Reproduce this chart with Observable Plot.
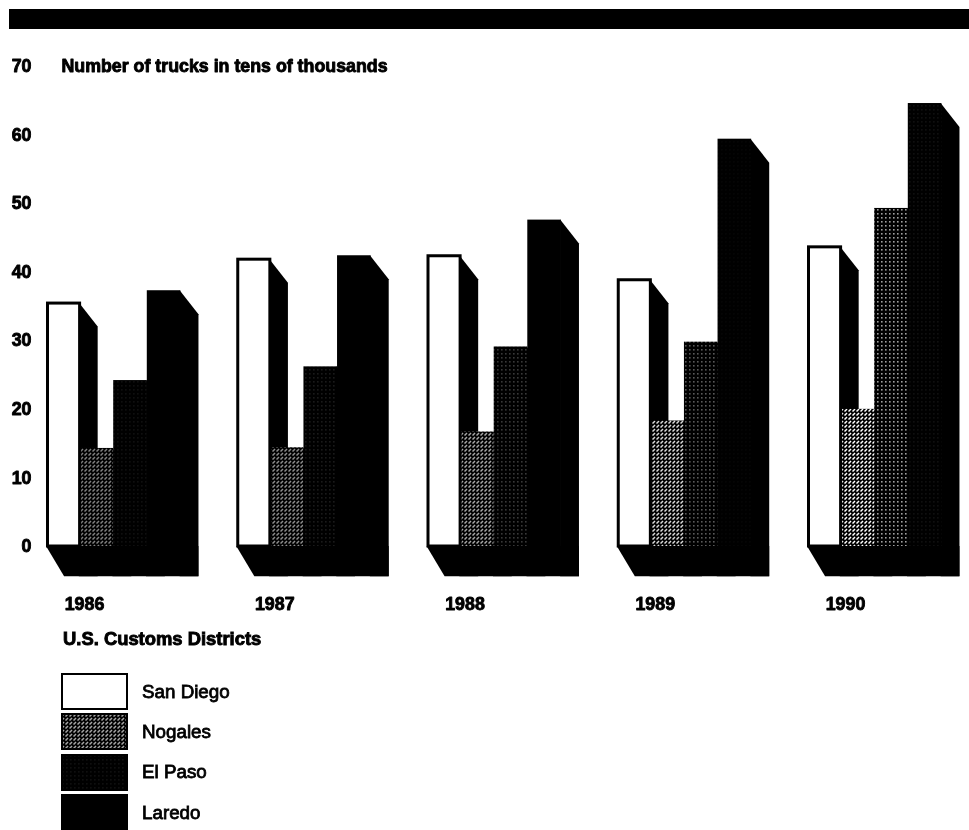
<!DOCTYPE html>
<html>
<head>
<meta charset="utf-8">
<script src="https://cdn.jsdelivr.net/npm/d3@7"></script>
<script src="https://cdn.jsdelivr.net/npm/@observablehq/plot@0.6"></script>
<style>
  html, body { margin: 0; padding: 0; background: #fff; }
  body { width: 969px; height: 830px; overflow: hidden; font-family: "Liberation Sans", Arial, sans-serif; color: #000; filter: blur(0.45px); }
  #band { margin: 9px 0 0 9px; height: 20px; background: #000; }
  #chart { margin-top: 11px; height: 585px; }
  #chart svg { display: block; overflow: visible; background: transparent; }
  #district { margin: 4px 0 0 63px; font-size: 18.4px; font-weight: bold; -webkit-text-stroke: 0.9px #000; line-height: 20px; height: 20px; }
  #legend { margin: 24px 0 0 61px; }
  .row { display: flex; align-items: center; height: 37px; margin-bottom: 3.4px; }
  .row svg { display: block; margin-right: 14px; }
  .row span { font-size: 18.8px; font-weight: normal; -webkit-text-stroke: 0.8px #000; }
</style>
</head>
<body>
<div id="band"></div>
<div id="chart"></div>
<div id="district"></div>
<div id="legend"></div>
<script>
// Values in tens of thousands of trucks
const years    = [1986, 1987, 1988, 1989, 1990];
const sanDiego = [35.5, 41.9, 42.4, 38.9, 43.7];
const nogales  = [14.3, 14.4, 16.7, 18.3, 20.0];
const elPaso   = [24.2, 26.2, 29.1, 29.8, 49.3];
const laredo   = [37.3, 42.4, 47.6, 59.4, 64.6];
const districts = ["San Diego", "Nogales", "El Paso", "Laredo"];
const yTicks = [0, 10, 20, 30, 40, 50, 60, 70];
const yTitle = "Number of trucks in tens of thousands";
const xTitle = "U.S. Customs Districts";

// Dither strength of each district's tint, year by year
const nogalesTone = [0.5, 0.55, 0.65, 0.85, 1];
const elPasoTone  = [0.06, 0.1, 0.22, 0.35, 0.62];
const laredoTone  = [0, 0, 0, 0.02, 0.06];

// Pseudo-3D extrusion, in scale units
const barWidth = 0.1766, sideX = 0.095, sideY = 3.5, floorY = 4.4;

const series = [sanDiego, nogales, elPaso, laredo];
const bars = years.flatMap((year, j) => series.map((values, i) => ({
  id: `${year}-${i}`, year, i,
  x1: year + i * barWidth, x2: year + (i + 1) * barWidth,
  value: values[j],
  fill: i === 0 ? "#fff" : `url(#p${i}-${j})`
})));
const sides = bars.flatMap(b => [
  {id: b.id, x: b.x2 - 0.004, bottom: -floorY, top: b.value},
  {id: b.id, x: b.x2 + sideX, bottom: -floorY, top: b.value - sideY}
]);
const floors = years.flatMap(year => [
  {year, y: 0, left: year, right: year + 4 * barWidth + sideX},
  {year, y: -floorY, left: year + sideX, right: year + 4 * barWidth + sideX}
]);

const textStyle = {fontSize: 17.8, fontWeight: "bold", fill: "#000", stroke: "#000", strokeWidth: 0.9};
const axisStyle = {fontSize: 17.8, fontWeight: "bold", textFill: "#000", textStroke: "#000", textStrokeWidth: 0.9};
const plot = Plot.plot({
  width: 969, height: 585,
  marginLeft: 46, marginRight: 162, marginTop: 26, marginBottom: 79,
  style: {fontFamily: "'Liberation Sans', Arial, sans-serif", color: "#000", background: "transparent"},
  x: {domain: [1986, 1990], label: null},
  y: {domain: [0, 70], label: null},
  color: {type: "identity"},
  marks: [
    Plot.axisY({ticks: yTicks, tickSize: 0, tickPadding: 15, label: null, ...axisStyle}),
    Plot.axisX({ticks: years, tickFormat: d => String(d), tickSize: 0, tickPadding: 51, dx: 38, label: null, ...axisStyle}),
    Plot.text([yTitle], {text: d => d, x: () => years[0], y: () => yTicks[7], dx: 15, textAnchor: "start", ...textStyle}),
    Plot.area(sides, {x1: "x", y1: "bottom", y2: "top", z: "id", fill: "#000"}),
    Plot.rect(bars, {filter: d => d.i > 0, x1: "x1", x2: "x2", y1: 0, y2: "value", fill: "fill"}),
    Plot.rect(bars, {filter: d => d.i === 0, x1: "x1", x2: "x2", y1: 0, y2: "value", fill: "fill",
      stroke: "#000", strokeWidth: 3, insetLeft: 1.5, insetRight: 0, insetTop: 0.5, insetBottom: 0}),
    Plot.area(floors, {y1: "y", x1: "left", x2: "right", z: "year", fill: "#000"})
  ]
});
document.getElementById("chart").appendChild(plot);

// Screen-tone fills
const defs = d3.select(plot).insert("defs", ":first-child");
function tone(id, kind, strength) {
  const p = defs.append("pattern").attr("id", id).attr("patternUnits", "userSpaceOnUse")
    .attr("width", 4).attr("height", 4);
  p.append("rect").attr("width", 4).attr("height", 4).attr("fill", "#000");
  if (kind === "hatch") {
    p.append("path").attr("d", "M0.5 3.5L3 1").attr("stroke", "#fff").attr("stroke-width", 1.5)
      .attr("stroke-opacity", strength).attr("fill", "none");
  } else {
    p.append("rect").attr("x", 1).attr("y", 1).attr("width", 1.6).attr("height", 1.6)
      .attr("fill", "#fff").attr("fill-opacity", strength);
  }
}
years.forEach((y, j) => {
  tone(`p1-${j}`, "hatch", nogalesTone[j]);
  tone(`p2-${j}`, "dot", elPasoTone[j]);
  tone(`p3-${j}`, "dot", laredoTone[j]);
});

document.getElementById("district").textContent = xTitle;
const legendFill = ["#fff", "url(#p1-2)", "url(#p2-0)", "#000"];
const legend = d3.select("#legend");
districts.forEach((name, i) => {
  const row = legend.append("div").attr("class", "row");
  const s = row.append("svg").attr("width", 67).attr("height", 37);
  s.append("rect").attr("x", 1).attr("y", 1).attr("width", 65).attr("height", 35)
    .attr("fill", legendFill[i]).attr("stroke", "#000").attr("stroke-width", 2);
  row.append("span").text(name);
});
</script>
</body>
</html>
